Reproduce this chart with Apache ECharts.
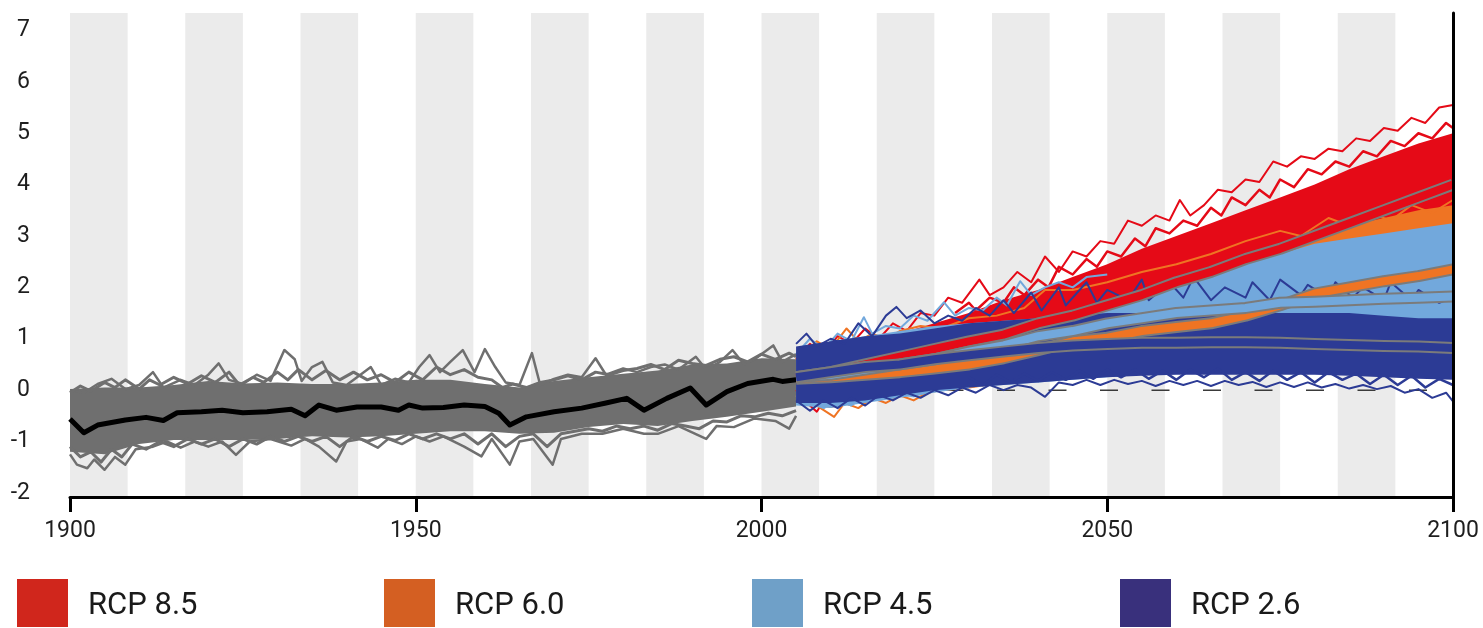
<!DOCTYPE html>
<html>
<head>
<meta charset="utf-8">
<title>RCP projections</title>
<script src="https://cdn.jsdelivr.net/npm/echarts@6/dist/echarts.min.js"></script>
<style>
  html, body { margin: 0; padding: 0; background: #fff; }
  #chart { width: 1483px; height: 628px; }
</style>
</head>
<body>
<div id="chart"></div>
<script>
// ---- data ----
const xTicks = [1900, 1950, 2000, 2050, 2100];
const yTicks = [-2, -1, 0, 1, 2, 3, 4, 5, 6, 7];
const scenarioNames = ['RCP 8.5', 'RCP 6.0', 'RCP 4.5', 'RCP 2.6'];

// historical ensemble (dense core envelope, 5-year steps)
const histYears = [1900, 1905, 1910, 1915, 1920, 1925, 1930, 1935, 1940, 1945, 1950,
  1955, 1960, 1965, 1970, 1975, 1980, 1985, 1990, 1995, 2000, 2005];
const histLow = [-1.2, -1.25, -1.05, -0.97, -0.97, -0.97, -0.95, -0.9, -0.92, -0.9, -0.85,
  -0.8, -0.8, -0.85, -0.83, -0.72, -0.66, -0.7, -0.6, -0.52, -0.42, -0.32];
const histHigh = [0.02, 0.05, 0.05, 0.1, 0.18, 0.13, 0.15, 0.12, 0.12, 0.15, 0.2,
  0.2, 0.12, 0.05, 0.18, 0.25, 0.32, 0.38, 0.5, 0.52, 0.62, 0.6];

// historical members and multi-model mean [year, value]
const histUpperMember = [[1900, 0.0], [1902, -0.05], [1904, 0.12], [1906, 0.22], [1908, 0.02], [1910, 0.1],
  [1912, 0.35], [1913.5, 0.05], [1916, 0.2], [1918, 0.1], [1920, 0.3], [1921.5, 0.52], [1923, 0.2],
  [1925, 0.12], [1927, 0.3], [1929, 0.18], [1931, 0.78], [1932.5, 0.6], [1933.5, 0.18], [1935, 0.45],
  [1936.5, 0.55], [1938, 0.15], [1940, 0.1], [1942, 0.3], [1943.5, 0.45], [1945, 0.1], [1947, 0.22],
  [1949, 0.15], [1950.5, 0.45], [1952, 0.68], [1953.5, 0.35], [1955, 0.55], [1956.8, 0.78], [1958.5, 0.35],
  [1960, 0.8], [1961.5, 0.45], [1963, 0.15], [1965, 0.1], [1966.8, 0.72], [1968, 0.1], [1970, 0.22],
  [1972, 0.3], [1974, 0.25], [1976, 0.62], [1977.5, 0.3], [1980, 0.42], [1982, 0.35], [1984, 0.45],
  [1986, 0.5], [1988, 0.4], [1990.5, 0.65], [1992, 0.4], [1994, 0.55], [1995.8, 0.78], [1997.5, 0.5],
  [1999, 0.6], [2001.7, 0.87], [2003, 0.55], [2005, 0.7]];
const histInnerUpper = [[1900, -0.05], [1901.5, 0.08], [1903, -0.02], [1905, 0.15], [1906.5, 0.05], [1908, 0.2],
  [1910, 0.02], [1911.5, 0.2], [1913, 0.1], [1915, 0.25], [1917, 0.12], [1919, 0.28], [1921, 0.15], [1923, 0.35],
  [1924.5, 0.1], [1926.5, 0.25], [1928, 0.15], [1930, 0.35], [1931.5, 0.2], [1933, 0.4], [1935, 0.2], [1937, 0.38],
  [1939, 0.2], [1941, 0.35], [1943, 0.2], [1945, 0.3], [1947, 0.15], [1949, 0.35], [1951, 0.2], [1953, 0.45],
  [1955, 0.3], [1957, 0.4], [1959, 0.25], [1961, 0.2], [1962.5, 0.05], [1964, 0.12], [1966, 0.05], [1968, 0.15],
  [1970, 0.2], [1972, 0.28], [1974, 0.2], [1976, 0.35], [1978, 0.3], [1980, 0.38], [1982, 0.42], [1984, 0.5],
  [1986, 0.4], [1988, 0.58], [1990, 0.52], [1992, 0.48], [1994, 0.6], [1996, 0.65], [1998, 0.55], [2000, 0.7],
  [2002, 0.6], [2004, 0.72], [2005, 0.65]];
const histLowerMember = [[1900, -1.25], [1901, -1.45], [1902.5, -1.52], [1903.5, -1.35], [1905, -1.55],
  [1906.5, -1.3], [1908, -1.45], [1909.5, -1.15], [1912, -1.1], [1914, -1.0], [1916, -1.12], [1918, -1.0],
  [1920, -1.1], [1922, -1.0], [1924, -1.26], [1926, -1.0], [1929, -0.95], [1932, -1.08], [1934, -0.95],
  [1936, -1.1], [1938.5, -1.39], [1940, -1.0], [1942, -0.95], [1944.5, -1.12], [1946, -0.95], [1948, -1.05],
  [1950, -0.9], [1952, -1.0], [1954, -0.9], [1957, -1.1], [1959.5, -1.29], [1961, -0.95], [1963.6, -1.45],
  [1965, -1.0], [1967, -0.95], [1969.8, -1.45], [1971, -0.95], [1974, -0.85], [1977, -0.85], [1980, -0.75],
  [1983, -0.85], [1985, -0.85], [1988, -0.7], [1992, -0.95], [1993.5, -0.7], [1996, -0.72], [1999, -0.55],
  [2002, -0.6], [2004, -0.75], [2005, -0.5]];
const histInnerLower = [[1900, -1.1], [1901.5, -1.3], [1903, -1.2], [1904.5, -1.4], [1906, -1.15], [1907.5, -1.3],
  [1909, -1.05], [1911, -1.15], [1913, -1.0], [1915, -1.1], [1917, -0.95], [1919, -1.05], [1921, -0.95],
  [1923, -1.1], [1925, -0.95], [1927, -1.05], [1929, -0.9], [1931, -1.0], [1933, -0.9], [1935, -1.0],
  [1937, -0.9], [1939, -1.1], [1941, -0.9], [1943, -1.0], [1945, -0.9], [1947, -0.98], [1949, -0.85],
  [1951, -0.95], [1953, -0.85], [1955, -0.95], [1957, -0.85], [1959, -1.05], [1961, -0.85], [1963, -1.1],
  [1965, -0.9], [1967, -0.85], [1969, -1.1], [1971, -0.85], [1973, -0.8], [1975, -0.75], [1977, -0.8],
  [1979, -0.7], [1981, -0.75], [1983, -0.7], [1985, -0.78], [1987, -0.65], [1989, -0.7], [1991, -0.75],
  [1993, -0.6], [1995, -0.62], [1997, -0.5], [1999, -0.52], [2001, -0.45], [2003, -0.5], [2005, -0.4]];
const histMean = [[1900, -0.56], [1902, -0.83], [1904, -0.68], [1908, -0.58], [1911, -0.53], [1913.5, -0.59],
  [1915.5, -0.44], [1919, -0.42], [1922, -0.39], [1925, -0.44], [1928.5, -0.42], [1932, -0.37], [1934, -0.5],
  [1936, -0.29], [1938.5, -0.39], [1941.5, -0.33], [1945, -0.33], [1947.5, -0.39], [1949, -0.29], [1951, -0.35],
  [1954, -0.34], [1957, -0.29], [1960, -0.32], [1962, -0.45], [1963.6, -0.68], [1966, -0.52], [1970, -0.42],
  [1974, -0.35], [1977.5, -0.25], [1980.5, -0.16], [1983, -0.39], [1986.3, -0.16], [1989.7, 0.04], [1992, -0.29],
  [1995, -0.03], [1998, 0.13], [2001.7, 0.21], [2003, 0.17], [2005, 0.2]];

// projections (5-year steps)
const futYears = [2005, 2010, 2015, 2020, 2025, 2030, 2035, 2040, 2045, 2050,
  2055, 2060, 2065, 2070, 2075, 2080, 2085, 2090, 2095, 2100];

const rcp85Mean = [0.25, 0.35, 0.5, 0.65, 0.8, 0.95, 1.08, 1.3, 1.45, 1.65, 1.85, 2.1, 2.3, 2.55, 2.75, 3.0, 3.25, 3.5, 3.75, 4.0];
const rcp85Low = [-0.2, -0.3, -0.1, 0.05, 0.25, 0.4, 0.6, 0.8, 1.0, 1.2, 1.4, 1.6, 1.8, 2.0, 2.2, 2.4, 2.6, 2.8, 3.0, 3.2];
const rcp85High = [0.5, 0.8, 0.95, 1.1, 1.3, 1.5, 1.75, 1.95, 2.2, 2.45, 2.75, 3.0, 3.25, 3.5, 3.75, 4.0, 4.3, 4.55, 4.8, 5.0];

const rcp60Mean = [0.22, 0.25, 0.3, 0.35, 0.42, 0.5, 0.62, 0.78, 0.95, 1.02, 1.15, 1.23, 1.3, 1.45, 1.65, 1.88, 2.0, 2.12, 2.22, 2.35];
const rcp60Low = [-0.25, -0.35, -0.2, -0.1, 0.0, 0.1, 0.2, 0.3, 0.4, 0.5, 0.6, 0.7, 0.8, 0.9, 1.0, 1.1, 1.2, 1.3, 1.4, 1.5];
const rcp60High = [0.5, 0.85, 0.95, 1.0, 1.1, 1.2, 1.25, 1.3, 1.45, 1.6, 1.8, 2.0, 2.2, 2.45, 2.75, 3.0, 3.2, 3.35, 3.5, 3.6];

const rcp45Mean = [0.25, 0.3, 0.4, 0.5, 0.6, 0.75, 0.87, 1.05, 1.15, 1.3, 1.4, 1.5, 1.55, 1.6, 1.7, 1.72, 1.75, 1.78, 1.8, 1.82];
const rcp45Low = [-0.3, -0.35, -0.25, -0.15, -0.05, 0.05, 0.1, 0.15, 0.2, 0.25, 0.3, 0.35, 0.4, 0.45, 0.5, 0.5, 0.55, 0.55, 0.6, 0.6];
const rcp45High = [0.6, 0.95, 1.05, 1.15, 1.25, 1.3, 1.35, 1.4, 1.5, 1.65, 1.85, 2.05, 2.25, 2.45, 2.65, 2.85, 2.95, 3.05, 3.15, 3.25];

const rcp26Mean = [0.25, 0.35, 0.45, 0.5, 0.6, 0.68, 0.75, 0.82, 0.87, 0.9, 0.92, 0.92, 0.93, 0.93, 0.92, 0.9, 0.88, 0.86, 0.85, 0.82];
const rcp26Low = [-0.25, -0.25, -0.2, -0.1, 0.0, 0.05, 0.1, 0.15, 0.2, 0.25, 0.28, 0.3, 0.3, 0.3, 0.3, 0.3, 0.28, 0.25, 0.22, 0.2];
const rcp26High = [0.85, 0.95, 1.05, 1.1, 1.2, 1.3, 1.35, 1.4, 1.45, 1.5, 1.5, 1.5, 1.5, 1.5, 1.5, 1.5, 1.5, 1.45, 1.4, 1.4];

// outlying projection members [year, value]
const rcp85UpperMember = [[2005, 0.6], [2007, 0.9], [2009, 0.7], [2011, 1.05], [2013, 0.9], [2015, 1.2], [2017, 1.0],
  [2019, 1.3], [2021, 1.15], [2023, 1.5], [2025, 1.45], [2027, 1.8], [2029, 1.7], [2031.5, 2.15], [2033, 1.85],
  [2035, 2.0], [2037, 2.3], [2039, 2.1], [2041, 2.6], [2043, 2.3], [2045, 2.7], [2047, 2.6], [2049, 2.9],
  [2051, 2.85], [2053, 3.3], [2055, 3.2], [2057, 3.4], [2059, 3.3], [2060.5, 3.7], [2062, 3.4], [2064, 3.6],
  [2066, 3.9], [2068, 3.85], [2070, 4.1], [2072, 4.05], [2074, 4.45], [2076, 4.35], [2078, 4.55], [2080, 4.5],
  [2082, 4.7], [2084, 4.65], [2086, 4.9], [2088, 4.85], [2090, 5.1], [2092, 5.05], [2094, 5.3], [2096, 5.2],
  [2098, 5.5], [2100, 5.55]];
const rcp85InnerUpper = [[2028, 1.5], [2030, 1.7], [2031, 1.55], [2033, 1.8], [2035, 1.7], [2036.5, 2.0],
  [2038, 1.85], [2040, 2.15], [2041.5, 2.0], [2043, 2.4], [2045, 2.25], [2047, 2.55], [2048.5, 2.4],
  [2050, 2.7], [2052, 2.6], [2054, 2.95], [2055.5, 2.8], [2057, 3.15], [2059, 3.05], [2061, 3.3],
  [2063, 3.2], [2065, 3.55], [2066.5, 3.4], [2068, 3.75], [2070, 3.6], [2072, 3.9], [2073.5, 3.75],
  [2075, 4.1], [2077, 3.95], [2079, 4.3], [2081, 4.2], [2083, 4.45], [2085, 4.35], [2087, 4.65],
  [2089, 4.55], [2091, 4.85], [2093, 4.75], [2095, 5.0], [2097, 4.9], [2099, 5.2], [2100, 5.1]];
const rcp85LowerMember = [[2005, 0.0], [2007, -0.3], [2008, -0.42], [2009.5, -0.1], [2011, -0.3], [2013, 0.0],
  [2015, -0.1], [2017, 0.1], [2020, 0.15], [2025, 0.3], [2030, 0.45], [2035, 0.65], [2040, 0.85]];
const rcp60UpperMember = [[2005, 0.6], [2008, 0.95], [2010, 0.8], [2012.3, 1.2], [2014, 0.95], [2016, 1.1],
  [2018, 1.0], [2020, 1.15], [2023, 1.25], [2026, 1.2], [2030, 1.4], [2034, 1.45], [2038, 1.6], [2041, 1.95],
  [2045, 1.95], [2050, 2.1], [2055, 2.3], [2060, 2.45], [2065, 2.65], [2070, 2.9], [2075, 3.1], [2078, 3.0],
  [2082, 3.35], [2085, 3.2], [2088, 3.45], [2091, 3.3], [2094, 3.6], [2097, 3.45], [2100, 3.7]];
const rcp60LowerMember = [[2005, -0.1], [2008, -0.3], [2010.5, -0.52], [2012, -0.25], [2014, -0.35], [2016, -0.15],
  [2018, -0.25], [2020, -0.1], [2022, -0.2], [2024, -0.05], [2026, 0.0], [2030, 0.05], [2035, 0.15], [2040, 0.25]];
const rcp45UpperMember = [[2005, 0.7], [2007, 1.0], [2009, 0.8], [2011, 1.1], [2013, 0.95], [2014.8, 1.42],
  [2016, 1.1], [2018, 1.25], [2020, 1.2], [2022, 1.45], [2024, 1.35], [2026.4, 1.71], [2028, 1.45], [2030, 1.6],
  [2032, 1.55], [2034, 1.8], [2035.5, 1.65], [2037.4, 2.12], [2039, 1.85], [2041, 2.0], [2043, 2.1], [2045, 2.0],
  [2047, 2.2], [2050, 2.25]];
const rcp45LowerMember = [[2005, -0.1], [2007, -0.25], [2009, -0.35], [2011, -0.2], [2013, -0.3], [2015, -0.1],
  [2017, -0.2], [2019, -0.05], [2022, -0.12], [2025, 0.0], [2030, 0.05]];
const rcp26UpperMember = [[2005, 0.9], [2006.5, 1.1], [2008, 0.85], [2010, 1.0], [2012, 0.9], [2014, 1.3],
  [2016, 1.05], [2018, 1.45], [2019.5, 1.62], [2021, 1.4], [2023, 1.55], [2025, 1.3], [2027, 1.45], [2029, 1.35],
  [2031, 1.6], [2033, 1.45], [2035, 1.75], [2036.5, 1.5], [2039, 1.9], [2040.5, 1.55], [2043, 2.0], [2044, 1.65],
  [2047, 2.1], [2048.5, 1.7], [2050, 1.95], [2053, 1.75], [2055, 2.15], [2056, 1.75], [2059, 2.1], [2061, 1.8],
  [2062.5, 2.2], [2065, 1.75], [2067, 2.0], [2070, 1.8], [2071, 2.1], [2073.5, 1.75], [2075, 2.15], [2078, 1.85],
  [2079, 2.05], [2082, 1.8], [2083, 2.1], [2085.5, 1.8], [2087, 2.0], [2090, 1.75], [2091, 2.1], [2094, 1.75],
  [2095, 1.95], [2098, 1.7], [2100, 1.8]];
const rcp26InnerLower = [[2030, 0.25], [2032, 0.1], [2034, 0.3], [2036, 0.15], [2038, 0.32], [2040, 0.18],
  [2042, 0.35], [2044, 0.2], [2046, 0.38], [2048, 0.22], [2050, 0.4], [2052, 0.25], [2054, 0.4], [2056, 0.22],
  [2058, 0.38], [2060, 0.2], [2062, 0.4], [2064, 0.25], [2066, 0.42], [2068, 0.2], [2070, 0.35], [2072, 0.18],
  [2074, 0.38], [2076, 0.2], [2078, 0.35], [2080, 0.15], [2082, 0.35], [2084, 0.2], [2086, 0.32], [2088, 0.12],
  [2090, 0.3], [2092, 0.1], [2094, 0.28], [2096, 0.05], [2098, 0.22], [2100, 0.1]];
const rcp26LowerMember = [[2005, -0.2], [2007, -0.4], [2009, -0.2], [2011, -0.35], [2013, -0.15], [2015, -0.3],
  [2017, -0.1], [2019, -0.2], [2021, -0.05], [2023, -0.15], [2025, 0.0], [2027, -0.1], [2029, 0.05], [2031, -0.05],
  [2033, 0.1], [2035, 0.0], [2037, 0.1], [2039, 0.05], [2041, -0.13], [2043, 0.15], [2045, 0.1], [2047, 0.2],
  [2049, 0.1], [2051, 0.2], [2053, 0.12], [2055, 0.18], [2057, 0.08], [2059, 0.18], [2061, 0.1], [2063, 0.18],
  [2065, 0.08], [2067, 0.18], [2069, 0.1], [2071, 0.16], [2073, 0.06], [2075, 0.15], [2077, 0.06], [2079, 0.15],
  [2081, 0.05], [2083, 0.12], [2085, 0.03], [2087, 0.1], [2089, 0.02], [2091, 0.08], [2093, -0.05], [2095, 0.02],
  [2097, -0.15], [2099, -0.05], [2100, -0.22]];

// ---- styles ----
const font = 'Roboto';
const histGrey = '#6f6f6f';
const meanEdge = '#7b7b7b';
const c85 = '#e50a17';
const c60 = '#ef7423';
const c45 = '#72a8dc';
const c26 = '#2c3b95';
const legendColors = ['#d0261c', '#d45f22', '#6fa0c8', '#39307c'];
const legendLeft = [17, 384, 752, 1120];

const chart = echarts.init(document.getElementById('chart'));
const series = [];

// background stripes: 12 grey bands, each half of a 200/12 year period
const period = 200 / 12;
const stripeStarts = [];
for (let k = 0; k < 12; k++) stripeStarts.push(1900 + k * period);
series.push({
  type: 'custom', silent: true,
  data: stripeStarts.map((s) => [s, 0]),
  renderItem: (params, api) => {
    const x0 = api.coord([api.value(0), 0])[0];
    const x1 = api.coord([api.value(0) + period / 2, 0])[0];
    const cs = params.coordSys;
    return { type: 'rect', shape: { x: x0, y: cs.y, width: x1 - x0, height: cs.height },
      style: { fill: '#ebebeb' } };
  },
});

// zero reference
series.push({
  type: 'line', symbol: 'none', silent: true,
  data: [[1900, 0], [2100, 0]],
  lineStyle: { color: '#3a3a3a', width: 1.5, type: [18, 33.5] },
});

// a filled envelope between two value lists, drawn as one polygon
function band(name, years, low, high, color) {
  series.push({
    name, type: 'custom', silent: true,
    data: years.map((y, i) => [y, low[i], high[i]]),
    renderItem: (params, api) => {
      if (params.dataIndex !== 0) return null;
      const pts = [];
      years.forEach((y, i) => pts.push(api.coord([y, high[i]])));
      for (let i = years.length - 1; i >= 0; i--) pts.push(api.coord([years[i], low[i]]));
      return { type: 'polygon', shape: { points: pts }, style: { fill: color } };
    },
  });
}

function member(points, color, width) {
  series.push({
    type: 'line', symbol: 'none', silent: true, data: points,
    lineStyle: { color, width: width || 2, join: 'round' },
  });
}

function mean(years, vals, color) {
  const data = years.map((y, i) => [y, vals[i]]);
  series.push({ type: 'line', symbol: 'none', silent: true, data,
    lineStyle: { color: meanEdge, width: 12, join: 'round' } });
  series.push({ type: 'line', symbol: 'none', silent: true, data,
    lineStyle: { color, width: 8, join: 'round' } });
}

// historical
band('hist', histYears, histLow, histHigh, histGrey);
member(histUpperMember, histGrey, 2.5);
member(histInnerUpper, histGrey, 3);
member(histLowerMember, histGrey, 2.5);
member(histInnerLower, histGrey, 3);
series.push({ type: 'line', symbol: 'none', silent: true, data: histMean,
  lineStyle: { color: '#000', width: 5, join: 'round' } });

// projections, back to front
band(scenarioNames[0], futYears, rcp85Low, rcp85High, c85);
member(rcp85UpperMember, c85);
member(rcp85InnerUpper, c85, 2.5);
member(rcp85LowerMember, c85);
band(scenarioNames[1], futYears, rcp60Low, rcp60High, c60);
member(rcp60UpperMember, c60);
member(rcp60LowerMember, c60);
band(scenarioNames[2], futYears, rcp45Low, rcp45High, c45);
member(rcp45UpperMember, c45);
member(rcp45LowerMember, c45);
band(scenarioNames[3], futYears, rcp26Low, rcp26High, c26);
member(rcp26UpperMember, c26);
member(rcp26InnerLower, c26, 2.5);
member(rcp26LowerMember, c26);

mean(futYears, rcp85Mean, c85);
mean(futYears, rcp60Mean, c60);
mean(futYears, rcp45Mean, c45);
mean(futYears, rcp26Mean, c26);

// draw strictly in the order pushed
series.forEach((s, i) => { s.z = 1 + i; });

chart.setOption({
  animation: false,
  backgroundColor: '#fff',
  grid: { left: 70, right: 30, top: 13, bottom: 131 },
  xAxis: {
    type: 'value', min: 1900, max: 2100, interval: 50, z: 200,
    axisLine: { onZero: false, lineStyle: { color: '#000', width: 3 } },
    axisTick: { length: 15, lineStyle: { color: '#000', width: 3 } },
    axisLabel: { fontFamily: font, fontSize: 23, color: '#1e1e1e', margin: 23,
      customValues: xTicks, formatter: (v) => String(v) },
    splitLine: { show: false },
  },
  yAxis: [{
    type: 'value', min: -2.08, max: 7.34,
    axisLine: { show: false, onZero: false },
    axisTick: { show: false },
    axisLabel: { fontFamily: font, fontSize: 23, color: '#1e1e1e', margin: 40,
      customValues: yTicks },
    splitLine: { show: false },
  }, {
    type: 'value', min: -2.08, max: 7.34, position: 'right', z: 200,
    axisLine: { show: true, onZero: false, lineStyle: { color: '#000', width: 3 } },
    axisTick: { show: false },
    axisLabel: { show: false },
    splitLine: { show: false },
  }],
  legend: scenarioNames.map((n, i) => ({
    left: legendLeft[i], top: 579, padding: 0,
    icon: 'rect', itemWidth: 51, itemHeight: 48, selectedMode: false,
    data: [{ name: n, itemStyle: { color: legendColors[i], borderWidth: 0 } }],
    formatter: '{t|{name}}',
    textStyle: { fontFamily: font, fontSize: 31, color: '#1a1a1a',
      rich: { t: { fontFamily: font, fontSize: 31, color: '#1a1a1a', padding: [6, 0, 0, 15] } } },
  })),
  series,
});
</script>
</body>
</html>
